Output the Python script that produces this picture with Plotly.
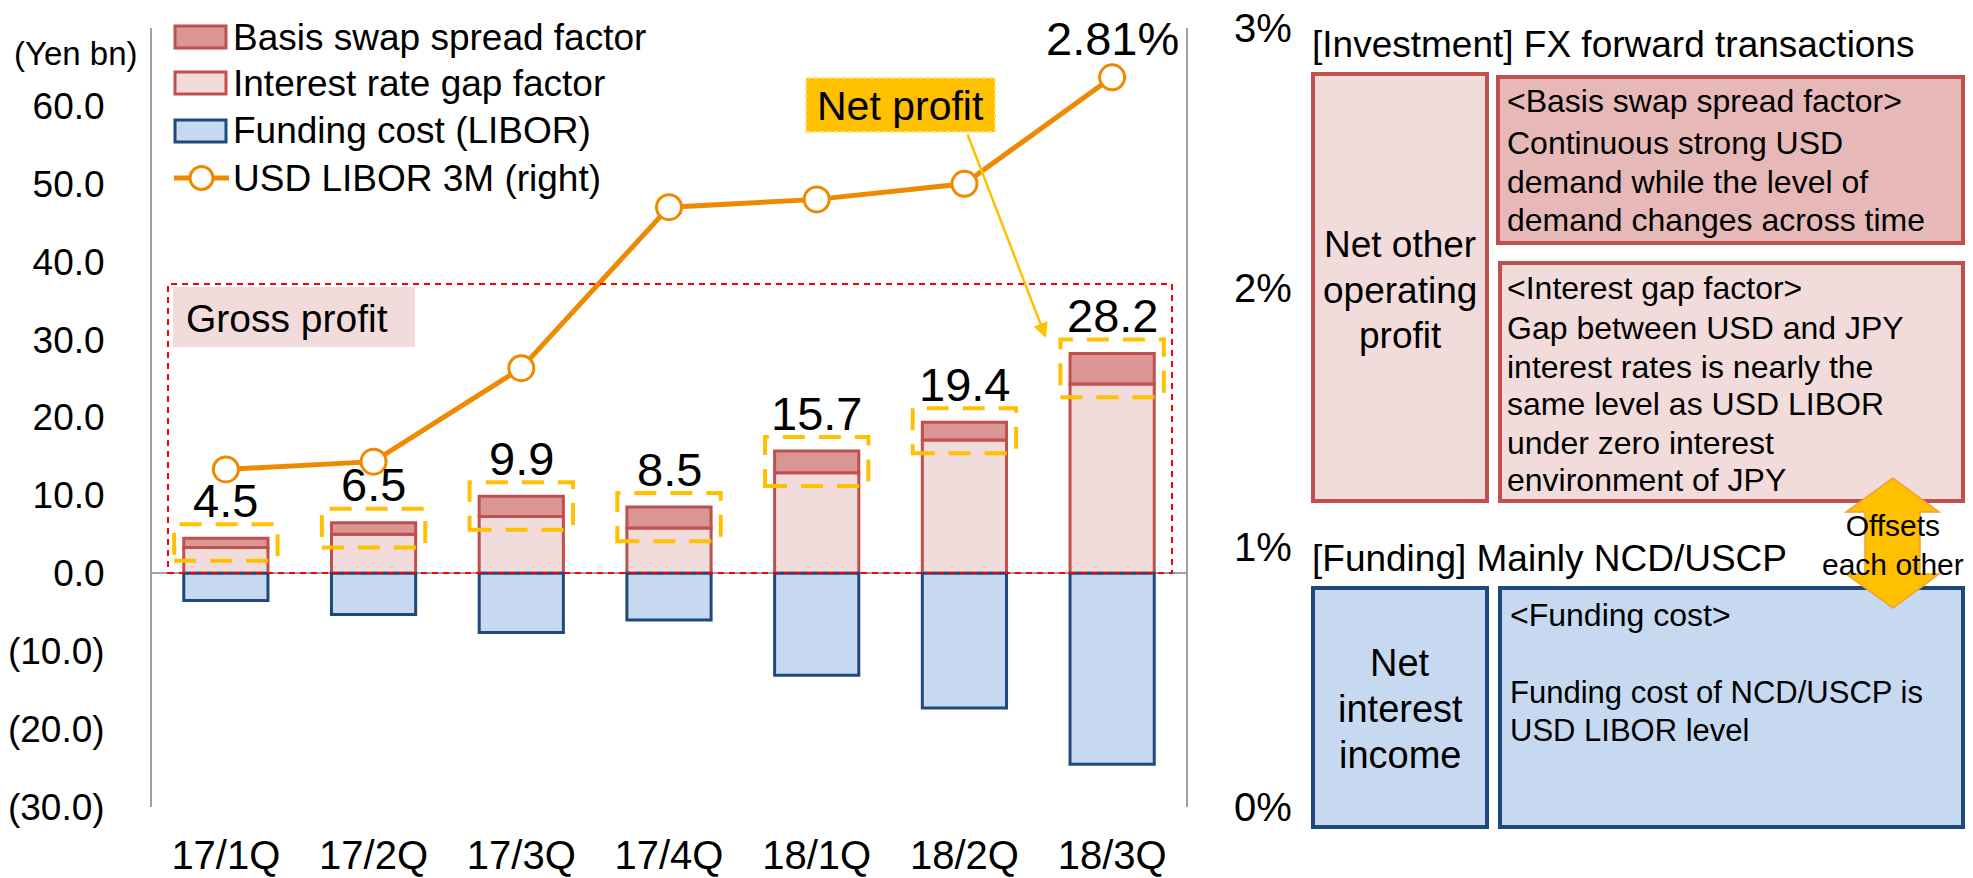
import plotly.graph_objects as go

# ---------------- data ----------------
categories = ["17/1Q", "17/2Q", "17/3Q", "17/4Q", "18/1Q", "18/2Q", "18/3Q"]
basis_swap = [1.2, 1.5, 2.6, 2.7, 2.8, 2.3, 3.9]
interest_gap = [3.3, 5.0, 7.3, 5.8, 12.9, 17.1, 24.3]
funding_cost = [-3.5, -5.3, -7.6, -6.0, -13.1, -17.3, -24.5]
libor_3m = [1.30, 1.33, 1.69, 2.31, 2.34, 2.40, 2.81]

left_ticks = [-30, -20, -10, 0, 10, 20, 30, 40, 50, 60]
right_ticks = [0, 1, 2, 3]

FONT = "Liberation Sans, Arial, sans-serif"
W, H = 1973, 878
PL, PR, PT, PB = 152, 1186, 28, 807

def px(x):
    return (x - PL) / (PR - PL)

def py(y):
    return (PB - y) / (PB - PT)

RED = "#C0504D"
BASIS_FILL = "#D99694"
GAP_FILL = "#F2DCDB"
BLUE = "#1F497D"
BLUE_FILL = "#C6D9F1"
ORANGE = "#EE8A00"
YELLOW = "#FFC000"

fig = go.Figure()
fig.add_trace(go.Bar(x=categories, y=interest_gap, name="Interest rate gap factor",
                     marker=dict(color=GAP_FILL, line=dict(color=RED, width=3))))
fig.add_trace(go.Bar(x=categories, y=basis_swap, name="Basis swap spread factor",
                     marker=dict(color=BASIS_FILL, line=dict(color=RED, width=3))))
fig.add_trace(go.Bar(x=categories, y=funding_cost, name="Funding cost (LIBOR)",
                     marker=dict(color=BLUE_FILL, line=dict(color=BLUE, width=3))))
fig.add_trace(go.Scatter(x=categories, y=libor_3m, yaxis="y2", mode="lines+markers",
                         name="USD LIBOR 3M (right)",
                         line=dict(color=ORANGE, width=5),
                         marker=dict(size=25, color="white", line=dict(color=ORANGE, width=3))))

shapes = []
annotations = []

# totals, data labels and yellow dashed boxes
for i, cat in enumerate(categories):
    total = basis_swap[i] + interest_gap[i]
    annotations.append(dict(x=cat, y=total, xref="x", yref="y", text=f"{total:.1f}",
                            showarrow=False, yshift=38, font=dict(size=47, color="black", family=FONT)))
    shapes.append(dict(type="rect", xref="x", yref="y", x0=i - 0.35, x1=i + 0.35,
                       y0=interest_gap[i] - 1.7, y1=total + 1.8,
                       line=dict(color=YELLOW, width=4, dash="22px,14px"), layer="above"))

# 2.81% label
annotations.append(dict(x=categories[-1], y=libor_3m[-1], xref="x", yref="y2",
                        text=f"{libor_3m[-1]:.2f}%", showarrow=False, yshift=39,
                        font=dict(size=47, color="black", family=FONT)))

# Gross profit dashed box + label
shapes.append(dict(type="rect", xref="paper", yref="paper", x0=px(168), x1=px(1172),
                   y0=py(573), y1=py(284), line=dict(color="#FF0000", width=2, dash="6px,5px"),
                   layer="above"))
shapes.append(dict(type="rect", xref="paper", yref="paper", x0=px(173), x1=px(415),
                   y0=py(347), y1=py(287), line=dict(width=0), fillcolor=GAP_FILL, layer="below"))
annotations.append(dict(x=px(184), y=py(318), xref="paper", yref="paper", text="Gross profit",
                        showarrow=False, xanchor="left", yanchor="middle",
                        font=dict(size=39, color="black", family=FONT)))

# Net profit box + arrow
shapes.append(dict(type="rect", xref="paper", yref="paper", x0=px(806), x1=px(995),
                   y0=py(132), y1=py(78), fillcolor=YELLOW,
                   line=dict(color="#FFE080", width=2, dash="4px,3px"), layer="above"))
annotations.append(dict(x=px(900), y=py(106), xref="paper", yref="paper", text="Net profit",
                        showarrow=False, xanchor="center", yanchor="middle",
                        font=dict(size=41, color="black", family=FONT)))
annotations.append(dict(x=px(1046), y=py(338), xref="paper", yref="paper", text="",
                        showarrow=True, ax=967 - 1046, ay=133 - 338, axref="pixel", ayref="pixel",
                        arrowcolor=YELLOW, arrowwidth=2.5, arrowhead=2, arrowsize=1.2))

# (Yen bn)
annotations.append(dict(x=px(76), y=py(53), xref="paper", yref="paper", text="(Yen bn)",
                        showarrow=False, xanchor="center", yanchor="middle",
                        font=dict(size=33, color="black", family=FONT)))

# manual legend
legend_rows = [
    ("Basis swap spread factor", "bar", BASIS_FILL, RED, 37),
    ("Interest rate gap factor", "bar", GAP_FILL, RED, 83),
    ("Funding cost (LIBOR)", "bar", BLUE_FILL, BLUE, 131),
    ("USD LIBOR 3M (right)", "line", "white", ORANGE, 178),
]
for label, kind, fill, edge, yc in legend_rows:
    if kind == "bar":
        shapes.append(dict(type="rect", xref="paper", yref="paper", x0=px(175), x1=px(226),
                           y0=py(yc + 11), y1=py(yc - 11), fillcolor=fill,
                           line=dict(color=edge, width=3), layer="above"))
    else:
        shapes.append(dict(type="line", xref="paper", yref="paper", x0=px(174), x1=px(229),
                           y0=py(yc), y1=py(yc), line=dict(color=edge, width=5), layer="above"))
        shapes.append(dict(type="circle", xref="paper", yref="paper", x0=px(190), x1=px(213),
                           y0=py(yc + 11.5), y1=py(yc - 11.5), fillcolor="white",
                           line=dict(color=edge, width=3), layer="above"))
    annotations.append(dict(x=px(231), y=py(yc), xref="paper", yref="paper", text=label,
                            showarrow=False, xanchor="left", yanchor="middle",
                            font=dict(size=37, color="black", family=FONT)))

# ---------------- right panel ----------------
def box(x0, y0, x1, y1, fill, edge):
    shapes.append(dict(type="rect", xref="paper", yref="paper", x0=px(x0), x1=px(x1),
                       y0=py(y1), y1=py(y0), fillcolor=fill, line=dict(color=edge, width=4),
                       layer="above"))

def text(x, y, s, size=32, anchor="left"):
    annotations.append(dict(x=px(x), y=py(y), xref="paper", yref="paper", text=s,
                            showarrow=False, xanchor=anchor, yanchor="middle",
                            font=dict(size=size, color="black", family=FONT)))

text(1310, 45, "[Investment] FX forward transactions", 37)
box(1313, 74, 1487, 501, GAP_FILL, RED)
box(1498, 77, 1963, 243, "#E6B9B8", RED)
box(1500, 263, 1963, 501, GAP_FILL, RED)
for s, y in [("Net other", 245), ("operating", 290), ("profit", 335)]:
    text(1400, y, s, 37, "center")
for s, y in [("&lt;Basis swap spread factor&gt;", 101), ("Continuous strong USD", 143),
             ("demand while the level of", 182), ("demand changes across time", 220)]:
    text(1505, y, s, 32)
for s, y in [("&lt;Interest gap factor&gt;", 288), ("Gap between USD and JPY", 328),
             ("interest rates is nearly the", 367), ("same level as USD LIBOR", 404),
             ("under zero interest", 443), ("environment of JPY", 480)]:
    text(1505, y, s, 32)

text(1310, 558, "[Funding] Mainly NCD/USCP", 37)
box(1313, 588, 1487, 827, BLUE_FILL, BLUE)
box(1500, 588, 1963, 827, BLUE_FILL, BLUE)
for s, y in [("Net", 663), ("interest", 709), ("income", 755)]:
    text(1400, y, s, 38, "center")
text(1508, 615, "&lt;Funding cost&gt;", 32)
text(1508, 692, "Funding cost of NCD/USCP is", 31)
text(1508, 730, "USD LIBOR level", 31)

# double arrow
pts = [(1893, 478), (1939, 512), (1920, 512), (1920, 574), (1939, 574), (1893, 608),
       (1846, 574), (1865, 574), (1865, 512), (1846, 512)]
path = "M " + " L ".join(f"{px(a):.5f},{py(b):.5f}" for a, b in pts) + " Z"
shapes.append(dict(type="path", xref="paper", yref="paper", path=path, fillcolor=YELLOW,
                   line=dict(color="#F0A030", width=1.5), layer="above"))
text(1893, 545, "Offsets<br>each other", 30, "center")

fig.update_layout(
    width=W, height=H, autosize=False,
    margin=dict(l=PL, r=W - PR, t=PT, b=H - PB, pad=0),
    paper_bgcolor="white", plot_bgcolor="white",
    barmode="relative", bargap=0.43,
    showlegend=False,
    font=dict(family=FONT, color="black"),
    xaxis=dict(type="category", showgrid=False, showline=False, zeroline=False, automargin=False,
               tickfont=dict(size=40), ticks="", ticklabelstandoff=21,
               range=[-0.5, 6.5]),
    yaxis=dict(range=[-30, 70], showgrid=False, showline=True, linecolor="#A0A0A0", linewidth=2,
               zeroline=True, zerolinecolor="#A0A0A0", zerolinewidth=2, automargin=False,
               tickvals=left_ticks,
               ticktext=[f"({abs(v):.1f})" if v < 0 else f"{v:.1f}" for v in left_ticks],
               tickfont=dict(size=37), ticks="", ticklabelstandoff=38),
    yaxis2=dict(range=[0, 3], overlaying="y", side="right", showgrid=False, zeroline=False,
                showline=True, linecolor="#A0A0A0", linewidth=2, automargin=False,
                tickvals=right_ticks, ticktext=[f"{v}%" for v in right_ticks],
                tickfont=dict(size=40), ticks="", ticklabelstandoff=38),
    shapes=shapes, annotations=annotations,
)

fig.write_html("out.html", config={"displayModeBar": False},
               post_script="document.body.style.margin='0px';document.body.style.overflow='hidden';")
